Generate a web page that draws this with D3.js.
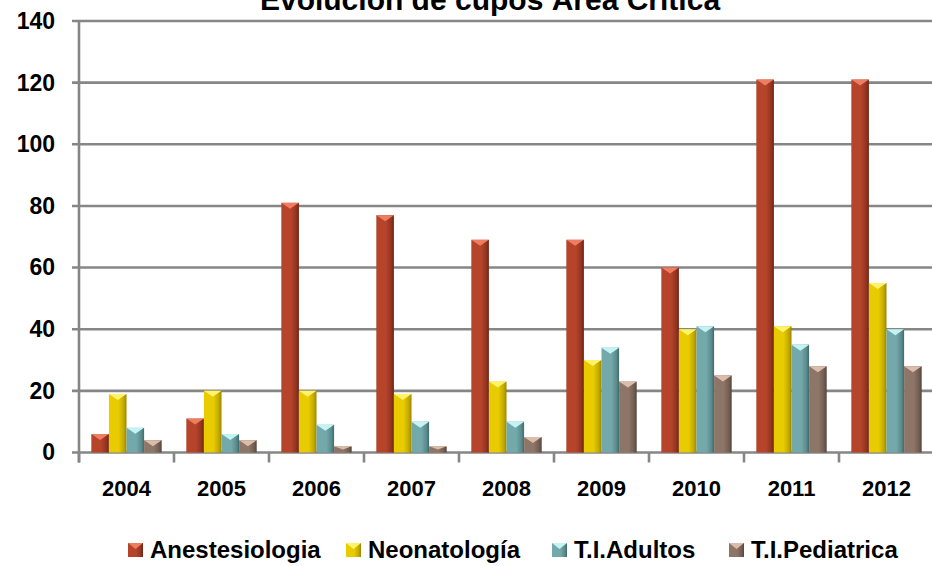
<!DOCTYPE html>
<html>
<head>
<meta charset="utf-8">
<script src="https://cdn.jsdelivr.net/npm/d3@7"></script>
<style>
  body { margin: 0; background: #fff; }
  text { font-family: "Liberation Sans", Arial, sans-serif; font-weight: bold; fill: #000; }
</style>
</head>
<body>
<div id="chart"></div>
<script>
const years = ['2004', '2005', '2006', '2007', '2008', '2009', '2010', '2011', '2012'];
const seriesNames = ['Anestesiologia', 'Neonatología', 'T.I.Adultos', 'T.I.Pediatrica'];
const anestesiologia = [6, 11, 81, 77, 69, 69, 60, 121, 121];
const neonatologia = [19, 20, 20, 19, 23, 30, 40, 41, 55];
const tiAdultos = [8, 6, 9, 10, 10, 34, 41, 35, 40];
const tiPediatrica = [4, 4, 2, 2, 5, 23, 25, 28, 28];
const yTicks = [0, 20, 40, 60, 80, 100, 120, 140];

const seriesValues = [anestesiologia, neonatologia, tiAdultos, tiPediatrica];
// base, light (bevel), dark (edge)
const colors = [
  ['#b5442b', '#ef7d62', '#6e2415'],
  ['#e8cb00', '#fff36a', '#9a8500'],
  ['#74a9ac', '#c4f3f4', '#3f6a6c'],
  ['#8d7567', '#dcbcaa', '#54443b']
];

const W = 932, H = 566;
const plotLeft = 79, plotRight = 934, plotTop = 21, plotBottom = 452.5;

const svg = d3.select('#chart').append('svg')
  .attr('width', W).attr('height', H);

const defs = svg.append('defs');
colors.forEach((c, i) => {
  const g = defs.append('linearGradient').attr('id', 'grad' + i)
    .attr('x1', '0%').attr('x2', '100%').attr('y1', '0%').attr('y2', '0%');
  g.append('stop').attr('offset', '0%').attr('stop-color', c[0]);
  g.append('stop').attr('offset', '55%').attr('stop-color', c[0]);
  g.append('stop').attr('offset', '85%').attr('stop-color', d3.interpolateRgb(c[0], c[2])(0.5));
  g.append('stop').attr('offset', '100%').attr('stop-color', c[2]);
});

const x0 = d3.scaleBand().domain(years).range([plotLeft, plotRight]).padding(0);
const x1 = d3.scaleBand().domain(seriesNames).range([0, x0.bandwidth()])
  .paddingInner(0).paddingOuter(0.7);
const y = d3.scaleLinear().domain([0, 140]).range([plotBottom, plotTop]);

// gridlines
svg.append('g').selectAll('line')
  .data(yTicks)
  .enter()
  .append('line')
  .attr('x1', plotLeft - 7).attr('x2', W)
  .attr('y1', d => y(d)).attr('y2', d => y(d))
  .attr('stroke', '#868686').attr('stroke-width', 2.6);

// y axis line
svg.append('line')
  .attr('x1', plotLeft).attr('x2', plotLeft)
  .attr('y1', y(140)).attr('y2', plotBottom + 10)
  .attr('stroke', '#868686').attr('stroke-width', 2.6);

// category ticks between years
svg.append('g').selectAll('line')
  .data(years)
  .enter()
  .append('line')
  .attr('x1', d => x0(d)).attr('x2', d => x0(d))
  .attr('y1', plotBottom).attr('y2', plotBottom + 10)
  .attr('stroke', '#868686').attr('stroke-width', 2.6);

// y labels
const yAxis = svg.append('g')
  .attr('transform', `translate(${plotLeft - 24},0)`)
  .call(d3.axisLeft(y).tickValues(yTicks).tickSize(0).tickPadding(0));
yAxis.select('.domain').remove();
yAxis.selectAll('text')
  .attr('text-anchor', 'end')
  .style('font-size', '23px')
  .style('font-family', '"Liberation Sans", Arial, sans-serif')
  .style('font-weight', 'bold')
  .attr('fill', '#000');

// x labels
const xAxis = svg.append('g')
  .attr('transform', `translate(0,${plotBottom + 28})`)
  .call(d3.axisBottom(x0).tickSize(0).tickPadding(0));
xAxis.select('.domain').remove();
xAxis.selectAll('text')
  .style('font-size', '22px')
  .style('font-family', '"Liberation Sans", Arial, sans-serif')
  .style('font-weight', 'bold')
  .attr('fill', '#000');

// bars
const bars = [];
years.forEach((yr, i) => {
  seriesNames.forEach((s, j) => {
    bars.push({ year: yr, series: s, idx: j, value: seriesValues[j][i] });
  });
});

const barG = svg.append('g');
const bw = x1.bandwidth();

barG.selectAll('.bar')
  .data(bars)
  .enter()
  .append('rect')
  .attr('class', 'bar')
  .attr('x', d => x0(d.year) + x1(d.series))
  .attr('y', d => y(d.value))
  .attr('width', bw)
  .attr('height', d => plotBottom - y(d.value))
  .attr('fill', d => `url(#grad${d.idx})`);

// bevel on top of each bar
barG.selectAll('.bevel')
  .data(bars)
  .enter()
  .append('path')
  .attr('class', 'bevel')
  .attr('d', d => {
    const bx = x0(d.year) + x1(d.series);
    const by = y(d.value);
    const h = Math.min(6, (plotBottom - by) / 2);
    return `M${bx},${by} L${bx + bw},${by} L${bx + bw / 2},${by + h} Z`;
  })
  .attr('fill', d => colors[d.idx][1]);

// title (partly cut off at the top, as in the original)
svg.append('text')
  .attr('x', 490).attr('y', 10)
  .attr('text-anchor', 'middle')
  .style('font-size', '30px')
  .text('Evolución de cupos Área Crítica');

// legend
const legendX = [128, 346, 552, 729];
const legend = svg.append('g').selectAll('g')
  .data(seriesNames)
  .enter()
  .append('g')
  .attr('transform', (d, i) => `translate(${legendX[i]},543)`);

legend.append('rect')
  .attr('width', 15).attr('height', 14)
  .attr('fill', (d, i) => `url(#grad${i})`);
legend.append('path')
  .attr('d', 'M0,0 L15,0 L7.5,6 Z')
  .attr('fill', (d, i) => colors[i][1]);
legend.append('text')
  .attr('x', 22).attr('y', 15)
  .style('font-size', '24px')
  .text(d => d);
</script>
</body>
</html>
